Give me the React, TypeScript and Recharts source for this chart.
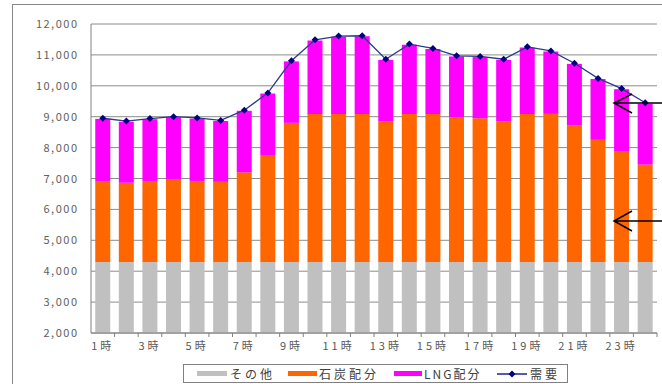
import React from "react";
import { ComposedChart, Bar, Line, XAxis, YAxis, CartesianGrid } from "recharts";

const hours = ["1時","2時","3時","4時","5時","6時","7時","8時","9時","10時","11時","12時","13時","14時","15時","16時","17時","18時","19時","20時","21時","22時","23時","24時"];
const other = [4300,4300,4300,4300,4300,4300,4300,4300,4300,4300,4300,4300,4300,4300,4300,4300,4300,4300,4300,4300,4300,4300,4300,4300];
const coal = [2620,2560,2620,2685,2620,2590,2900,3460,4500,4790,4790,4790,4550,4790,4790,4670,4650,4540,4790,4790,4410,3950,3590,3150];
const lng = [2010,1980,2000,2000,2020,1970,1990,1990,1990,2380,2500,2510,1990,2240,2100,1980,1980,2000,2150,2020,2000,1970,2000,1970];
const demand = [8950,8860,8940,9000,8960,8880,9210,9770,10810,11490,11610,11620,10860,11350,11210,10970,10950,10860,11260,11130,10730,10240,9910,9450];
const yTicks = [2000,3000,4000,5000,6000,7000,8000,9000,10000,11000,12000];
const legendNames = ["その他", "石炭配分", "LNG配分", "需要"];

const data = hours.map((h, i) => ({ h, other: other[i], coal: coal[i], lng: lng[i], demand: demand[i] }));

const FONT = "'Noto Sans CJK JP', 'DejaVu Sans', sans-serif";
const C_OTHER = "#C0C0C0";
const C_COAL = "#FF6600";
const C_LNG = "#FF00FF";
const C_DEM = "#000080";

const XTick = (props: any) => {
  const { x, y, payload, index } = props;
  const off = payload && payload.offset != null ? payload.offset : 11.8;
  return (
    <g>
      <line x1={x + off} x2={x + off} y1={y} y2={y + 4} stroke="#808080" strokeWidth={1} />
      {index % 2 === 0 && (
        <text x={x} y={y + 17} textAnchor="middle" fontSize={11} fill="#595959" fontFamily={FONT} letterSpacing={3}>
          {payload.value}
        </text>
      )}
    </g>
  );
};

const YTick = (props: any) => {
  const { x, y, payload } = props;
  return (
    <text x={x + 1.5} y={y + 4} textAnchor="end" fontSize={11} fill="#606060" fontFamily={FONT} letterSpacing={1.5}>
      {fmt(payload.value)}
    </text>
  );
};

const Diamond = (props: any) => {
  const { cx, cy } = props;
  if (cx == null || cy == null) return null;
  return <path d={`M${cx},${cy - 3.5}L${cx + 3.5},${cy}L${cx},${cy + 3.5}L${cx - 3.5},${cy}Z`} fill={C_DEM} />;
};

const fmt = (v: number) => v.toLocaleString("en-US");

const txt: React.CSSProperties = { position: "absolute", top: 0, lineHeight: "17px", letterSpacing: 3, whiteSpace: "nowrap" };
const sw = (left: number, width: number, color: string): React.CSSProperties => ({ position: "absolute", left, width, top: 6, height: 5, background: color });

export default function App() {
  return (
    <div style={{ position: "fixed", left: 0, top: 0, width: 662, height: 384, overflow: "hidden", background: "#fff" }}>
      <div style={{ position: "absolute", left: 12, top: 4, width: 700, height: 420, border: "1px solid #888" }} />
      <div style={{ position: "absolute", left: 0, top: 0 }}>
        <ComposedChart width={662} height={384} data={data} margin={{ top: 24, right: 5, left: 0, bottom: 21 }} barCategoryGap="18%">
          <CartesianGrid vertical={false} stroke="#8c8c8c" strokeWidth={1} />
          <XAxis dataKey="h" interval={0} height={30} tickSize={0} tickMargin={0} tickLine={false} axisLine={{ stroke: "#808080" }} tick={<XTick />} />
          <YAxis width={91} domain={[2000, 12000]} ticks={yTicks} allowDataOverflow tickSize={0} tickMargin={14} tickLine={false} axisLine={{ stroke: "#808080" }} tick={<YTick />} />
          <YAxis yAxisId="r" orientation="right" width={0} domain={[2000, 12000]} tick={false} tickLine={false} axisLine={{ stroke: "#a0a0a0" }} />
          <Bar dataKey="other" stackId="a" fill={C_OTHER} isAnimationActive={false} />
          <Bar dataKey="coal" stackId="a" fill={C_COAL} isAnimationActive={false} />
          <Bar dataKey="lng" stackId="a" fill={C_LNG} isAnimationActive={false} />
          <Line dataKey="demand" stroke="#2a3a8c" strokeWidth={1.3} dot={<Diamond />} activeDot={false} isAnimationActive={false} />
        </ComposedChart>
      </div>
      <div style={{ position: "absolute", left: 183, top: 364, width: 383, height: 17, border: "1px solid #808080", background: "#fff", fontFamily: FONT, fontSize: 12, color: "#404040" }}>
        <span style={sw(13, 30, C_OTHER)} />
        <span style={{ ...txt, left: 46 }}>{legendNames[0]}</span>
        <span style={sw(104, 29, C_COAL)} />
        <span style={{ ...txt, left: 135 }}>{legendNames[1]}</span>
        <span style={sw(210, 28, C_LNG)} />
        <span style={{ ...txt, left: 240, letterSpacing: 2 }}>{legendNames[2]}</span>
        <svg width={30} height={10} style={{ position: "absolute", left: 313, top: 4 }}>
          <line x1={0} x2={30} y1={5} y2={5} stroke={C_DEM} strokeWidth={1.3} />
          <path d="M15,1.5L18.5,5L15,8.5L11.5,5Z" fill={C_DEM} />
        </svg>
        <span style={{ ...txt, left: 346 }}>{legendNames[3]}</span>
      </div>
      <svg style={{ position: "absolute", left: 0, top: 0 }} width={662} height={384}>
        <g stroke="#000" strokeWidth={1.5} fill="none">
          <path d="M662,103 L614,103 M632,94 L614,103 L632,113" />
          <path d="M662,221 L614,221 M632,211 L614,221 L632,231" />
        </g>
      </svg>
    </div>
  );
}
